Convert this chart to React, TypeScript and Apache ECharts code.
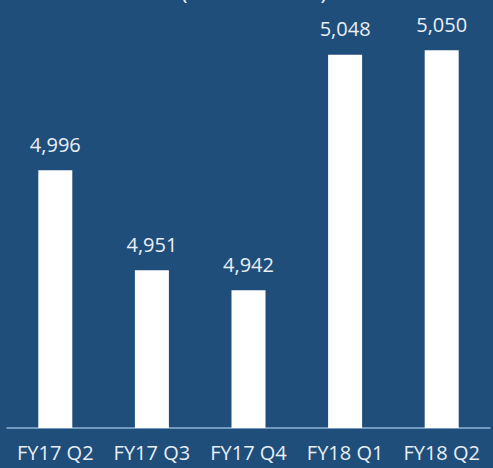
import React, { useEffect, useRef } from "react";
import * as echarts from "echarts";

const categories = ["FY17 Q2", "FY17 Q3", "FY17 Q4", "FY18 Q1", "FY18 Q2"];
const values = [4996, 4951, 4942, 5048, 5050];
const subtitle = "(in thousands)";

const BG = "#1f4e7a";
const FG = "#e9eff6";
const FONT = "'Open Sans', 'Noto Sans', sans-serif";

export default function App() {
  const ref = useRef<HTMLDivElement>(null);
  useEffect(() => {
    if (!ref.current) return;
    const chart = echarts.init(ref.current, null, { renderer: "svg" });
    chart.setOption({
      animation: false,
      backgroundColor: BG,
      graphic: [
        {
          type: "text",
          x: 254,
          y: 2,
          style: {
            text: subtitle,
            fill: FG,
            font: `22px ${FONT}`,
            textAlign: "center",
            textVerticalAlign: "bottom",
          },
        },
      ],
      grid: { left: 7, right: 3, top: 28, bottom: 40, containLabel: false },
      xAxis: {
        type: "category",
        data: categories,
        axisLine: { show: true, lineStyle: { color: "#8fb2d6", width: 1.5 } },
        axisTick: { show: false },
        axisLabel: {
          color: FG,
          fontFamily: FONT,
          fontSize: 20,
          margin: 14,
          interval: 0,
        },
      },
      yAxis: {
        type: "value",
        min: 4880,
        max: 5060,
        show: false,
        splitLine: { show: false },
      },
      series: [
        {
          type: "bar",
          data: values,
          barWidth: 34,
          itemStyle: { color: "#ffffff" },
          label: {
            show: true,
            position: "top",
            distance: 16,
            color: FG,
            fontFamily: FONT,
            fontSize: 20,
            formatter: (p: any) => Number(p.value).toLocaleString("en-US"),
          },
        },
      ],
    });
    return () => chart.dispose();
  }, []);
  return (
    <div
      ref={ref}
      style={{ position: "fixed", left: 0, top: 0, width: 493, height: 468 }}
    />
  );
}
